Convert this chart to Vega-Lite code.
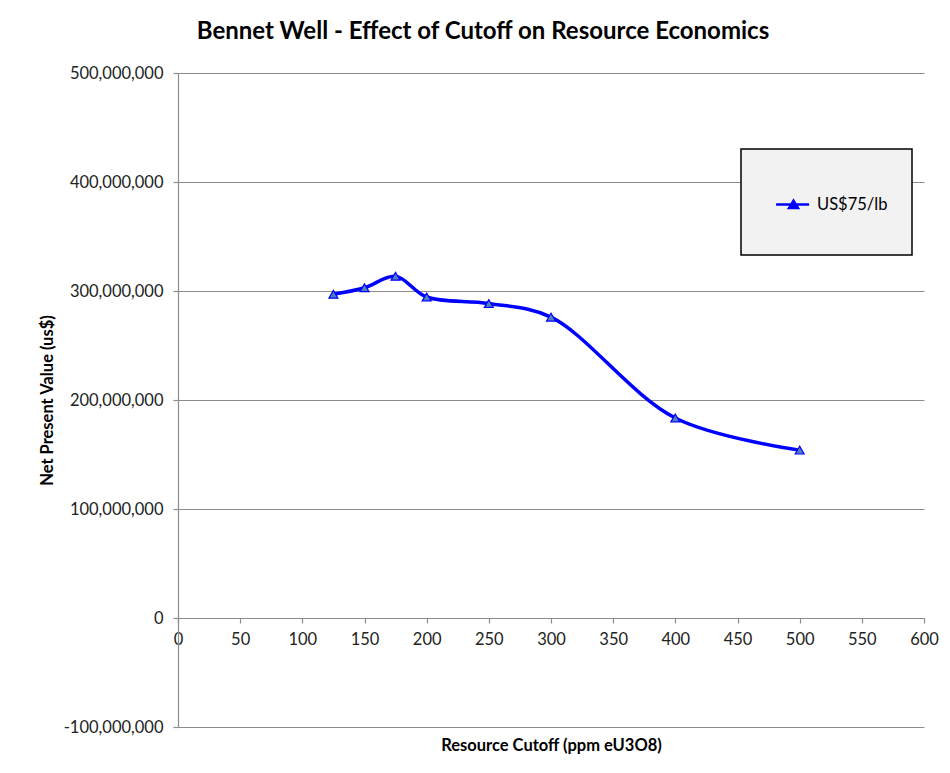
{
  "$schema": "https://vega.github.io/schema/vega-lite/v6.json",
  "width": 746,
  "height": 654,
  "autosize": {"type": "none"},
  "padding": {"left": 178, "top": 73, "right": 26, "bottom": 46},
  "background": "white",
  "title": {
    "text": "Bennet Well - Effect of Cutoff on Resource Economics",
    "font": "Lato",
    "fontSize": 24,
    "fontWeight": "bold",
    "color": "#000000",
    "anchor": "middle",
    "dx": -68,
    "offset": 21
  },
  "config": {
    "font": "Lato",
    "view": {"stroke": null},
    "axis": {
      "labelFont": "Lato",
      "titleFont": "Lato",
      "labelColor": "#222222",
      "titleColor": "#000000",
      "labelFontSize": 16.5,
      "titleFontSize": 16.5,
      "titleFontWeight": "bold",
      "domainColor": "#8c8c8c",
      "tickColor": "#8c8c8c",
      "gridColor": "#8c8c8c",
      "domainWidth": 1.2,
      "tickWidth": 1.2,
      "gridWidth": 1.2
    }
  },
  "data": {
    "values": [
      {"cutoff": 125, "npv": 297000000, "series": "US$75/lb"},
      {"cutoff": 150, "npv": 303000000, "series": "US$75/lb"},
      {"cutoff": 175, "npv": 313500000, "series": "US$75/lb"},
      {"cutoff": 200, "npv": 294500000, "series": "US$75/lb"},
      {"cutoff": 250, "npv": 288500000, "series": "US$75/lb"},
      {"cutoff": 300, "npv": 276000000, "series": "US$75/lb"},
      {"cutoff": 400, "npv": 183500000, "series": "US$75/lb"},
      {"cutoff": 500, "npv": 154000000, "series": "US$75/lb"}
    ]
  },
  "encoding": {
    "x": {
      "field": "cutoff",
      "type": "quantitative",
      "scale": {"domain": [0, 600], "nice": false, "zero": false},
      "axis": {
        "title": "Resource Cutoff (ppm eU3O8)",
        "values": [0, 50, 100, 150, 200, 250, 300, 350, 400, 450, 500, 550, 600],
        "offset": -109,
        "grid": false,
        "tickSize": 5,
        "labelPadding": 8,
        "labelFlush": false,
        "titleY": 127,
        "titleBaseline": "middle"
      }
    },
    "y": {
      "field": "npv",
      "type": "quantitative",
      "scale": {"domain": [-100000000, 500000000], "nice": false, "zero": false},
      "axis": {
        "title": "Net Present Value (us$)",
        "values": [-100000000, 0, 100000000, 200000000, 300000000, 400000000, 500000000],
        "labelExpr": "replace(format(datum.value, ',.0f'), '\u2212', '-')",
        "grid": true,
        "tickSize": 5,
        "labelPadding": 10,
        "titlePadding": 8
      }
    },
    "color": {
      "field": "series",
      "type": "nominal",
      "scale": {"range": ["#0000ff"]},
      "legend": {
        "title": null,
        "orient": "none",
        "legendX": 563,
        "legendY": 76,
        "fillColor": "#f2f2f2",
        "strokeColor": "#000000",
        "padding": 24,
        "symbolType": "M-0.68,0H0.42M-0.25,0.12L-0.1,-0.13L0.05,0.12ZM0,-0.7L0,-0.7M0,0.7L0,0.7",
        "symbolSize": 3600,
        "symbolStrokeWidth": 2.5,
        "symbolFillColor": "#4f81bd",
        "symbolStrokeColor": "#0000ff",
        "labelFontSize": 16.5,
        "labelFont": "Lato",
        "labelColor": "#000000",
        "labelOffset": -11,
        "encode": {"legend": {"update": {"strokeWidth": {"value": 1.5}}}}
      }
    }
  },
  "layer": [
    {
      "mark": {"type": "line", "interpolate": "catmull-rom", "strokeWidth": 3.5}
    },
    {
      "mark": {
        "type": "point",
        "shape": "triangle-up",
        "size": 80,
        "filled": true,
        "fill": "#4f81bd",
        "stroke": "#0000ff",
        "strokeWidth": 1.2,
        "opacity": 1
      }
    }
  ]
}
